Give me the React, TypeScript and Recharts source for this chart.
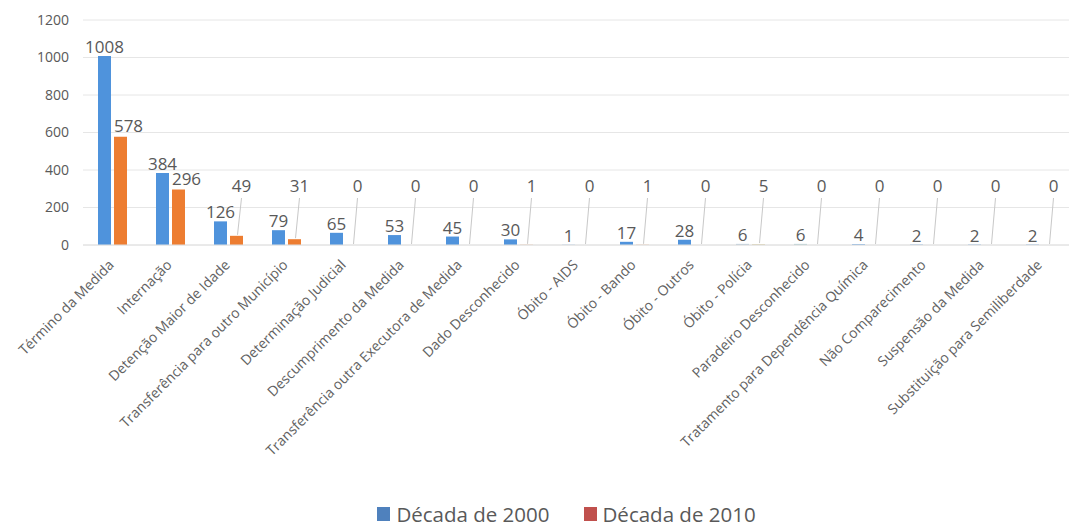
import React from "react";
import { BarChart, Bar, XAxis, YAxis, CartesianGrid, Legend, LabelList, Cell } from "recharts";

const categories = [
  "Término da Medida",
  "Internação",
  "Detenção Maior de Idade",
  "Transferência para outro Município",
  "Determinação Judicial",
  "Descumprimento da Medida",
  "Transferência outra Executora de Medida",
  "Dado Desconhecido",
  "Óbito - AIDS",
  "Óbito - Bando",
  "Óbito - Outros",
  "Óbito - Polícia",
  "Paradeiro Desconhecido",
  "Tratamento para Dependência Química",
  "Não Comparecimento",
  "Suspensão da Medida",
  "Substituição para Semiliberdade",
];
const decada2000 = [1008, 384, 126, 79, 65, 53, 45, 30, 1, 17, 28, 6, 6, 4, 2, 2, 2];
const decada2010 = [578, 296, 49, 31, 0, 0, 0, 1, 0, 1, 0, 5, 0, 0, 0, 0, 0];
const yTicks = [0, 200, 400, 600, 800, 1000, 1200];

const data = categories.map((name, i) => ({ name, d2000: decada2000[i], d2010: decada2010[i] }));

const BLUE = "#4f93dc";
const ORANGE = "#ed7d31";
const TEXT = "#595959";
const FONT = "'Open Sans', 'Noto Sans', sans-serif";

const Label2000 = (props: any) => {
  const { x, y, width, value } = props;
  return (
    <text x={x + width / 2} y={y - 3} textAnchor="middle" fill={TEXT} fontSize={17} fontFamily={FONT}>
      {value}
    </text>
  );
};

const Label2010 = (props: any) => {
  const { x, y, width, height, value } = props;
  const cx = x + width / 2;
  const top = Math.min(y, y + height);
  const bottom = Math.max(y, y + height);
  const v = Number(value);
  if (v >= 100) {
    return (
      <text x={cx + 8} y={top - 5} textAnchor="middle" fill={TEXT} fontSize={17} fontFamily={FONT}>
        {value}
      </text>
    );
  }
  const barTop = v === 0 ? bottom : top;
  return (
    <g>
      <line x1={cx + 5} y1={bottom - 47} x2={cx + 1} y2={barTop - 1} stroke="#c8c8c8" strokeWidth={1} />
      <text x={cx + 5} y={bottom - 53} textAnchor="middle" fill={TEXT} fontSize={17} fontFamily={FONT}>
        {value}
      </text>
    </g>
  );
};

const XTick = (props: any) => {
  const { x, y, payload } = props;
  return (
    <g transform={`translate(${x},${y + 10})`}>
      <text textAnchor="end" transform="rotate(-45)" fill="#626262" fontSize={14} fontFamily={FONT} dy={4}>
        {payload.value}
      </text>
    </g>
  );
};

const LegendContent = () => (
  <div style={{ display: "flex", justifyContent: "center", alignItems: "center", height: 37, fontFamily: FONT, fontSize: 20.5, color: TEXT, paddingLeft: 64, boxSizing: "border-box" }}>
    <span style={{ display: "inline-flex", alignItems: "center", marginRight: 34 }}>
      <span style={{ width: 13, height: 14, background: "#4f81bd", display: "inline-block", marginRight: 6 }} />
      Década de 2000
    </span>
    <span style={{ display: "inline-flex", alignItems: "center" }}>
      <span style={{ width: 13, height: 14, background: "#c0504d", display: "inline-block", marginRight: 6 }} />
      Década de 2010
    </span>
  </div>
);

const pale2000: Record<number, string> = { 11: "#b4c8d8", 12: "#b0cdd0" };
const pale2010: Record<number, string> = { 11: "#d9cfa8" };

export default function App() {
  return (
    <div style={{ position: "absolute", left: 0, top: 0, width: 1070, height: 532, background: "#fff" }}>
      <BarChart
        width={1070}
        height={532}
        data={data}
        margin={{ top: 20, right: 1, left: 0, bottom: 0 }}
        barSize={13}
        barGap={3}
      >
        <CartesianGrid vertical={false} stroke="#e6e6e6" />
        <XAxis
          dataKey="name"
          interval={0}
          height={250}
          tick={<XTick />}
          tickLine={false}
          axisLine={{ stroke: "#e0e0e0" }}
        />
        <YAxis
          width={83}
          domain={[0, 1200]}
          ticks={yTicks}
          tickLine={false}
          axisLine={false}
          tickMargin={8}
          tick={{ fill: TEXT, fontSize: 14, fontFamily: FONT }}
        />
        <Legend verticalAlign="bottom" height={37} content={<LegendContent />} />
        <Bar dataKey="d2000" name="Década de 2000" fill={BLUE} isAnimationActive={false}>
          {data.map((_, i) => (
            <Cell key={i} fill={pale2000[i] || BLUE} />
          ))}
          <LabelList dataKey="d2000" content={<Label2000 />} />
        </Bar>
        <Bar
          dataKey="d2010"
          name="Década de 2010"
          fill={ORANGE}
          isAnimationActive={false}
          minPointSize={(v: any) => (Number(v) === 0 ? 0.01 : 0)}
        >
          {data.map((d, i) => (
            <Cell key={i} fill={pale2010[i] || ORANGE} fillOpacity={d.d2010 === 0 ? 0 : 1} />
          ))}
          <LabelList dataKey="d2010" content={<Label2010 />} />
        </Bar>
      </BarChart>
    </div>
  );
}
